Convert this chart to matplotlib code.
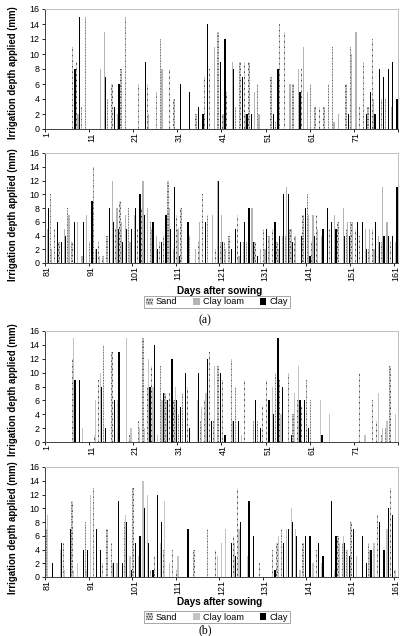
import matplotlib
matplotlib.use("Agg")
import matplotlib.pyplot as plt
import numpy as np

plt.rcParams['font.family'] = ['Liberation Sans', 'DejaVu Sans']
plt.rcParams['hatch.linewidth'] = 0.8

# (a) days 1-80
sand_a1 = [0, 0, 0, 0, 0, 0, 11, 9, 3, 15,
           0, 0, 0, 0, 4, 6, 0, 8, 15, 0,
           0, 6, 0, 6, 0, 5, 12, 0, 8, 4,
           0, 0, 0, 0, 2, 0, 7, 8, 0, 13,
           2, 5, 0, 3, 9, 9, 9, 0, 6, 0,
           0, 7, 1, 14, 13, 0, 6, 0, 8, 0,
           6, 3, 3, 3, 6, 11, 0, 0, 6, 11,
           0, 3, 9, 3, 12, 0, 4, 4, 0, 0]
loam_a1 = [0, 0, 0, 0, 0, 0, 0, 2, 0, 0,
           0, 0, 8, 13, 0, 0, 2, 0, 0, 0,
           0, 0, 0, 2, 0, 0, 8, 0, 0, 0,
           0, 0, 0, 0, 0, 0, 0, 0, 11, 0,
           2, 0, 9, 0, 0, 2, 0, 5, 2, 0,
           0, 0, 0, 0, 0, 6, 0, 8, 11, 5,
           0, 0, 0, 0, 0, 1, 2, 0, 0, 10,
           13, 0, 0, 0, 4, 0, 0, 0, 3, 0]
clay_a1 = [0, 0, 0, 0, 0, 0, 8, 15, 0, 0,
           0, 0, 0, 7, 0, 3, 6, 0, 0, 0,
           0, 0, 9, 0, 0, 0, 0, 0, 0, 0,
           6, 0, 5, 0, 3, 2, 14, 0, 0, 9,
           12, 0, 8, 0, 7, 2, 2, 0, 0, 0,
           0, 2, 8, 0, 0, 0, 0, 5, 0, 0,
           0, 0, 0, 0, 0, 0, 0, 0, 2, 0,
           0, 0, 2, 5, 2, 8, 7, 8, 9, 4]

# (a) days 81-161
sand_a2 = [0, 10, 5, 3, 0, 8, 3, 0, 0, 0,
           3, 14, 3, 1, 4, 0, 5, 9, 0, 8,
           0, 5, 8, 0, 6, 0, 3, 4, 12, 0,
           7, 8, 0, 4, 0, 3, 10, 7, 0, 2,
           3, 3, 4, 0, 7, 0, 3, 0, 3, 0,
           5, 4, 5, 3, 0, 4, 5, 4, 0, 7,
           10, 3, 7, 0, 0, 5, 0, 6, 0, 5,
           6, 5, 4, 0, 2, 5, 0, 3, 0, 3,
           0]
loam_a2 = [5, 2, 0, 0, 5, 7, 0, 6, 1, 7,
           0, 2, 1, 1, 0, 12, 8, 6, 7, 3,
           7, 0, 12, 8, 5, 4, 0, 0, 8, 2,
           5, 0, 0, 0, 2, 6, 0, 0, 7, 12,
           7, 2, 0, 0, 1, 3, 0, 8, 0, 2,
           2, 4, 0, 2, 4, 11, 5, 4, 0, 0,
           7, 7, 5, 4, 0, 0, 7, 0, 8, 6,
           6, 0, 0, 5, 5, 2, 4, 11, 6, 0,
           3]
clay_a2 = [8, 0, 6, 3, 4, 0, 6, 0, 6, 0,
           9, 2, 0, 0, 8, 6, 5, 3, 5, 5,
           8, 10, 7, 0, 6, 2, 3, 7, 5, 11,
           1, 0, 6, 0, 0, 0, 6, 0, 0, 12,
           3, 0, 2, 5, 3, 6, 8, 3, 1, 0,
           5, 0, 6, 4, 10, 10, 3, 0, 4, 8,
           1, 4, 0, 5, 8, 6, 5, 0, 4, 4,
           0, 6, 6, 2, 0, 6, 3, 4, 4, 4,
           11]

# (b) days 1-80
sand_b1 = [0, 0, 0, 0, 0, 0, 12, 0, 0, 0,
           0, 1, 9, 14, 0, 13, 0, 0, 0, 1,
           0, 3, 15, 8, 11, 0, 11, 7, 7, 6,
           4, 7, 8, 0, 0, 3, 6, 13, 3, 11,
           9, 0, 12, 8, 0, 9, 0, 3, 3, 5,
           9, 0, 10, 9, 0, 10, 4, 6, 5, 9,
           6, 0, 0, 0, 0, 0, 0, 0, 0, 0,
           0, 10, 0, 0, 6, 3, 1, 2, 11, 0]
loam_b1 = [0, 0, 0, 0, 0, 0, 15, 0, 2, 0,
           0, 6, 10, 0, 0, 0, 6, 0, 15, 2,
           0, 2, 2, 12, 8, 1, 6, 6, 0, 8,
           0, 0, 0, 0, 6, 5, 7, 0, 11, 0,
           0, 0, 3, 0, 1, 0, 0, 0, 0, 0,
           0, 8, 0, 4, 0, 0, 7, 11, 0, 0,
           0, 0, 6, 0, 4, 0, 0, 0, 0, 0,
           0, 0, 1, 0, 0, 7, 2, 3, 0, 4]
clay_b1 = [0, 0, 0, 0, 0, 0, 9, 9, 0, 0,
           0, 0, 8, 2, 0, 6, 13, 0, 0, 0,
           0, 0, 0, 8, 14, 0, 7, 6, 12, 6,
           5, 10, 2, 0, 10, 0, 12, 3, 0, 10,
           1, 0, 3, 3, 0, 0, 0, 6, 2, 0,
           6, 4, 15, 8, 0, 1, 0, 6, 6, 2,
           0, 0, 1, 0, 0, 0, 0, 0, 0, 0,
           0, 0, 0, 0, 0, 0, 0, 0, 0, 0]

# (b) days 81-161
sand_b2 = [7, 0, 0, 0, 5, 0, 11, 0, 0, 8,
           0, 13, 0, 2, 7, 5, 0, 0, 8, 0,
           13, 0, 0, 0, 1, 3, 0, 4, 0, 4,
           1, 0, 0, 0, 4, 0, 0, 7, 0, 4,
           0, 0, 0, 6, 13, 0, 0, 0, 0, 2,
           0, 0, 4, 5, 7, 0, 0, 0, 0, 5,
           0, 0, 4, 0, 0, 0, 0, 6, 5, 4,
           8, 0, 0, 0, 5, 0, 9, 0, 0, 13,
           1]
loam_b2 = [9, 0, 0, 4, 1, 0, 1, 2, 0, 1,
           12, 0, 0, 0, 0, 2, 2, 0, 9, 3,
           0, 3, 14, 12, 0, 0, 5, 11, 2, 0,
           3, 0, 0, 0, 0, 0, 0, 0, 0, 3,
           5, 7, 0, 5, 7, 0, 3, 0, 0, 0,
           0, 0, 0, 6, 0, 7, 10, 7, 1, 0,
           0, 2, 0, 2, 0, 0, 1, 5, 6, 4,
           0, 3, 0, 0, 4, 5, 0, 0, 7, 0,
           1]
clay_b2 = [0, 2, 0, 5, 0, 7, 0, 0, 4, 4,
           0, 7, 4, 0, 0, 2, 11, 2, 8, 1,
           5, 6, 10, 5, 1, 12, 8, 0, 0, 0,
           0, 0, 7, 0, 0, 0, 0, 0, 0, 0,
           0, 0, 5, 3, 8, 0, 11, 6, 0, 0,
           0, 0, 1, 0, 5, 7, 8, 6, 0, 6,
           6, 0, 5, 3, 0, 11, 6, 0, 5, 3,
           7, 0, 6, 2, 4, 0, 8, 4, 10, 9,
           0]

series_names = ["Sand", "Clay loam", "Clay"]
ylabel = "Irrigation depth applied (mm)"
xlabel = "Days after sowing"

W, H = 402, 636
fig = plt.figure(figsize=(W / 100, H / 100), dpi=100)


def px_axes(left, top, right, bottom):
    return fig.add_axes([left / W, 1 - bottom / H, (right - left) / W, (bottom - top) / H])


def draw_panel(ax, first_day, sand, loam, clay, loam_color):
    days = np.arange(first_day, first_day + len(sand))
    w = 0.28
    ax.bar(days - 0.29, sand, w, facecolor="#d4d4d4", edgecolor="#333333",
           hatch="......", linewidth=0)
    ax.bar(days, loam, w, color=loam_color, linewidth=0)
    ax.bar(days + 0.29, clay, w, color="black", linewidth=0)
    ax.set_xlim(first_day - 0.5, days[-1] + 0.5)
    ax.set_ylim(0, 16)
    ax.set_yticks(np.arange(0, 17, 2))
    ax.tick_params(axis="y", labelsize=6.4, length=2.5, width=0.6, pad=1.5)
    labels = days[::10]
    ax.set_xticks(labels)
    ax.set_xticklabels([str(d) for d in labels], rotation=90, fontsize=6.4)
    ax.tick_params(axis="x", length=0, pad=2.5)
    ax.set_xticks(np.arange(first_day - 0.5, days[-1] + 0.6, 10), minor=True)
    ax.tick_params(axis="x", which="minor", length=2.5, width=0.6)
    for s in ["top", "right"]:
        ax.spines[s].set_color("#bdbdbd")
        ax.spines[s].set_linewidth(0.7)
    for s in ["left", "bottom"]:
        ax.spines[s].set_color("#404040")
        ax.spines[s].set_linewidth(0.7)


ax1 = px_axes(45, 9, 398, 129)
draw_panel(ax1, 1, sand_a1, loam_a1, clay_a1, "#b4b4b4")
ax2 = px_axes(45, 153, 398, 263)
draw_panel(ax2, 81, sand_a2, loam_a2, clay_a2, "#b4b4b4")
ax3 = px_axes(45, 331, 398, 442)
draw_panel(ax3, 1, sand_b1, loam_b1, clay_b1, "#c4c4c4")
ax4 = px_axes(45, 467, 398, 577)
draw_panel(ax4, 81, sand_b2, loam_b2, clay_b2, "#c4c4c4")

# y labels, one per panel
for cy in [73, 215, 390, 528]:
    fig.text(13 / W, 1 - cy / H, ylabel, rotation=90, ha="center", va="center",
             fontsize=6.9, fontweight="bold")

for ax, xy, ly, ty, txt in [(ax2, 291, 302, 320, "(a)"), (ax4, 602, 617, 630, "(b)")]:
    fig.text(220 / W, 1 - xy / H, xlabel, ha="center", va="center",
             fontsize=7.2, fontweight="bold")
    handles = ax.containers
    leg = fig.legend(handles, series_names, loc="center", ncol=3,
                     bbox_to_anchor=(217 / W, 1 - ly / H), fontsize=6.6,
                     frameon=True, fancybox=False, edgecolor="#7f7f7f",
                     handlelength=0.7, handleheight=0.7, handletextpad=0.3,
                     columnspacing=1.8, borderpad=0.2)
    leg.get_frame().set_linewidth(0.6)
    fig.text(205 / W, 1 - ty / H, txt, ha="center", va="center", fontsize=8.5,
             family="Liberation Serif")

fig.savefig("out.png", dpi=100)
